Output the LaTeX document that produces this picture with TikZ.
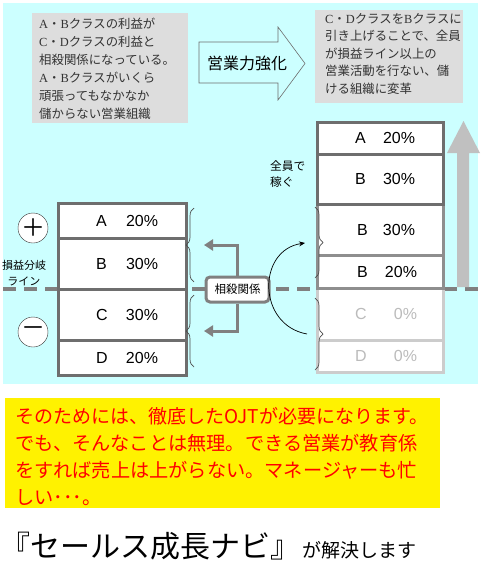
\documentclass[tikz,border=0pt]{standalone}
\usepackage{fontspec}
\setmainfont{Noto Sans CJK JP}
\newfontfamily\arialfont{Liberation Sans}
\newfontfamily\romanfont{Liberation Serif}
\usetikzlibrary{positioning,arrows.meta,decorations.pathreplacing}

\definecolor{skybg}{HTML}{CCFFFF}
\definecolor{memogray}{HTML}{DDDDDD}
\definecolor{darkline}{HTML}{6E6E6E}
\definecolor{midline}{HTML}{8E8E8E}
\definecolor{paleline}{HTML}{CCCCCC}
\definecolor{paletext}{HTML}{BBBBBB}
\definecolor{liftgray}{HTML}{C0C0C0}
\definecolor{linkgray}{HTML}{808080}
\definecolor{inkgray}{HTML}{333333}

\newcommand{\rom}[1]{{\romanfont #1}}
\newcommand{\share}[3][30pt]{\raisebox{-4pt}{\hspace*{38pt}\makebox[#1][l]{#2}#3}}

\tikzset{
  memo/.style={anchor=north west, inner sep=0pt, align=left, text=inkgray, font=\fontsize{12.4}{18}\selectfont},
  cell/.style={draw=darkline, line width=3pt, fill=white, inner sep=0pt, outer sep=0pt, align=left, text width=128pt, font=\arialfont\fontsize{16}{18}\selectfont},
  midcell/.style={cell, draw=midline},
  palecell/.style={cell, draw=paleline, text=paletext},
  sign/.style={circle, draw=black!80, fill=white, minimum size=30pt, inner sep=0pt},
  bracket/.style={decorate, decoration={brace, mirror, amplitude=8pt}, draw=black!70, line width=0.7pt},
  link/.style={draw=linkgray, line width=3pt, -{Triangle[width=11pt,length=9pt]}},
}

\begin{document}
\begin{tikzpicture}[x=1pt, y=-1pt]
\useasboundingbox (0,0) rectangle (483,568);
\fill[skybg] (3,3) rectangle (478,384);

% break-even line
\draw[linkgray, line width=3.5pt, dash pattern=on 13pt off 8pt] (3,289) -- (483,289);

% top notes
\fill[memogray] (32,13) rectangle (188,123);
\node[memo] (issue) at (39,18) {\rom{A}・\rom{B}クラスの利益が\\\rom{C}・\rom{D}クラスの利益と\\相殺関係になっている。\\\rom{A}・\rom{B}クラスがいくら\\頑張ってもなかなか\\儲からない営業組織};
\fill[memogray] (315,10) rectangle (463,103);
\node[memo, font=\fontsize{12.4}{17.5}\selectfont] (plan) at (325,13) {\rom{C}・\rom{D}クラスを\rom{B}クラスに\\引き上げることで、全員\\が損益ライン以上の\\営業活動を行ない、儲\\ける組織に変革};

\draw[darkline, fill=skybg, line width=0.6pt] (199,42) -- (278,42) -- (278,27) -- (305,63.5) -- (278,100) -- (278,83) -- (199,83) -- cycle;
\node[font=\fontsize{16}{16}\selectfont] (boost) at (247,63) {営業力強化};

% left stack
\node[cell, anchor=north west, minimum height=35pt] (la) at (58,203) {\share{A}{20\%}};
\node[cell, minimum height=51pt, below=0pt of la] (lb) {\share{B}{30\%}};
\node[cell, minimum height=51pt, below=0pt of lb] (lc) {\share{C}{30\%}};
\node[cell, minimum height=35pt, below=0pt of lc] (ld) {\share{D}{20\%}};

\node[sign] (plus) at (33,228) {\fontsize{24}{24}\selectfont ＋};
\node[sign] (minus) at (33,332) {\fontsize{24}{24}\selectfont －};
\node[align=center, font=\fontsize{11}{16}\selectfont] (breakeven) at (24,273) {損益分岐\\ライン};

% right stack
\node[palecell, text width=126pt, anchor=north west, minimum height=52pt] (rc) at (317,288) {\share[39pt]{C}{0\%}};
\node[palecell, text width=126pt, minimum height=32pt, below=0pt of rc] (rd) {\share[39pt]{D}{0\%}};
\node[midcell, text width=126pt, anchor=north west, minimum height=51pt] (rb2) at (317,204) {\share[28pt]{\hspace{2pt}B}{30\%}};
\node[midcell, text width=126pt, minimum height=33pt, below=0pt of rb2] (rb3) {\share[30pt]{\hspace{2pt}B}{20\%}};
\node[cell, text width=126pt, anchor=north west, minimum height=32pt] (ra) at (317,122) {\share[28pt]{A}{20\%}};
\node[cell, text width=126pt, minimum height=50pt, below=0pt of ra] (rb) {\share[28pt]{B}{30\%}};

\fill[liftgray] (457,287) -- (457,153) -- (447,153) -- (463.5,121) -- (480,153) -- (469,153) -- (469,287) -- cycle;

% braces and links
\draw[bracket] (194,208) -- (194,282);
\draw[bracket] (194,295) -- (194,367);
\draw[bracket] (315,278) -- (315,207);
\draw[bracket] (315,370) -- (315,298);
\coordinate (ltop) at (204,245);
\coordinate (lbot) at (204,331);
\coordinate (rtop) at (305,243);
\coordinate (rlow) at (307,334);

\node[draw=linkgray, line width=3pt, rounded corners=4pt, fill=white, minimum width=63pt, minimum height=25pt, inner sep=0pt, font=\fontsize{11.5}{12}\selectfont] (offset) at (237.5,289.5) {相殺関係};
\draw[link] (offset.north) |- (ltop);
\draw[link] (offset.south) |- (lbot);
\draw[-{Stealth[length=6pt,width=5pt]}, line width=0.7pt] (rlow) .. controls (257,325) and (257,250) .. (rtop);
\node[anchor=north west, align=left, inner sep=0pt, font=\fontsize{11.7}{16.5}\selectfont] (earn) at (270,160) {全員で\\稼ぐ};

% bottom message
\fill[yellow] (5,398) rectangle (440,508);
\node[anchor=north west, align=left, inner sep=0pt, text=red, font=\fontsize{19.2}{27}\selectfont] (note) at (15,407) {{\fontsize{19}{27}\selectfont そのためには、徹底したOJTが必要になります。}\\でも、そんなことは無理。できる営業が教育係\\をすれば売上は上がらない。マネージャーも忙\\しい･･･。};
\node[anchor=base west, inner sep=0pt, font=\fontsize{30}{30}\selectfont] (title) at (0,557) {『セールス成長ナビ』};
\node[anchor=base west, inner sep=0pt, font=\fontsize{19}{19}\selectfont] (solve) at ([xshift=2pt]title.base east) {が解決します};
\end{tikzpicture}
\end{document}
